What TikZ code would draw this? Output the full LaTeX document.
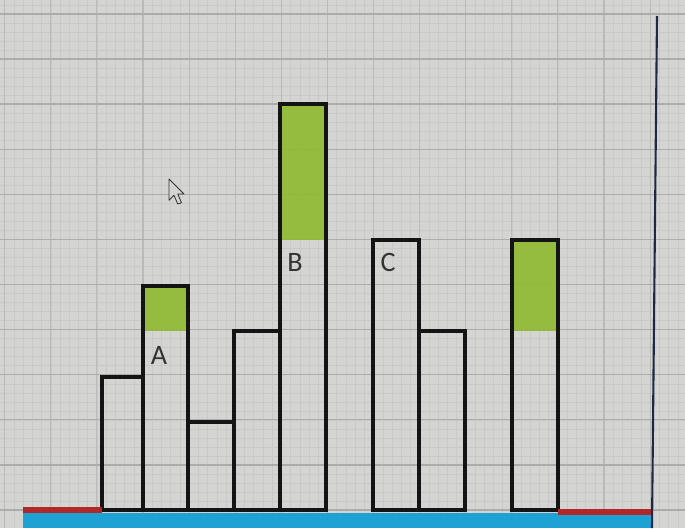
\documentclass[tikz,border=0pt]{standalone}
\usepackage{fontspec}
\setmainfont{Carlito}
\definecolor{bgc}{RGB}{212,212,210}
\definecolor{minorc}{RGB}{201,201,199}
\definecolor{majorc}{RGB}{172,172,170}
\definecolor{vmajorc}{RGB}{186,186,184}
\definecolor{greenc}{RGB}{143,186,48}
\definecolor{bluec}{RGB}{30,162,212}
\definecolor{redc}{RGB}{178,40,40}
\definecolor{navyc}{RGB}{30,40,70}
\tikzset{
  colbox/.style={draw=black!92, line width=2.6pt},
  greenfill/.style={fill=greenc, fill opacity=0.9},
  lbl/.style={font=\fontsize{20}{24}\selectfont, text=black!80, inner sep=0pt},
  minorline/.style={draw=minorc, line width=0.3pt},
  majorline/.style={draw=majorc, line width=0.9pt},
  vmajorline/.style={draw=vmajorc, line width=0.8pt}
}
\begin{document}
\begin{tikzpicture}[x=0.025cm,y=-0.025cm]
\useasboundingbox (0,0) rectangle (685,528);
\fill[bgc] (0,0) rectangle (685,528);
% minor grid
\foreach \i in {0,...,80} {
  \draw[minorline] ({143+9.22*(\i-16)},0) -- ({143+9.22*(\i-16)},528);
}
\foreach \j in {0,...,60} {
  \draw[minorline] (0,{510-9.02*\j}) -- (685,{510-9.02*\j});
}
% major grid
\foreach \i in {-3,...,12} {
  \draw[vmajorline] ({143+46.1*\i},0) -- ({143+46.1*\i},528);
}
\foreach \j in {0,...,11} {
  \draw[majorline] (0,{510-45.1*\j}) -- (685,{510-45.1*\j});
}
% green fills
\fill[greenfill] (143,286) rectangle (188,331);
\fill[greenfill] (280,104) rectangle (326,240);
\fill[greenfill] (512,240) rectangle (558,331);
% columns
\draw[colbox] (102,510) rectangle (143,377);
\draw[colbox] (143,510) rectangle (188,286);
\draw[colbox] (188,510) rectangle (234,422);
\draw[colbox] (234,510) rectangle (280,331);
\draw[colbox] (280,510) rectangle (326,104);
\draw[colbox] (373,510) rectangle (419,240);
\draw[colbox] (419,510) rectangle (465,331);
\draw[colbox] (512,510) rectangle (558,240);
% base
\fill[bluec] (23,513) rectangle (652,528);
\fill[redc] (23,507) rectangle (102,513);
\fill[redc] (558,509) rectangle (652,515);
\draw[navyc, line width=1.5pt] (657,16) -- (652,528);
% labels
\node[lbl] (labA) at (159,355) {A};
\node[lbl] (labB) at (295,262) {B};
\node[lbl] (labC) at (388,262) {C};
% cursor
\begin{scope}[shift={(169,179)}, scale=1.25]
\draw[fill=bgc, draw=black!80, line width=0.6pt, line join=round]
  (0,0) -- (0,17) -- (4,13) -- (7,20) -- (10,19) -- (7,12) -- (12,12) -- cycle;
\end{scope}
\end{tikzpicture}
\end{document}
